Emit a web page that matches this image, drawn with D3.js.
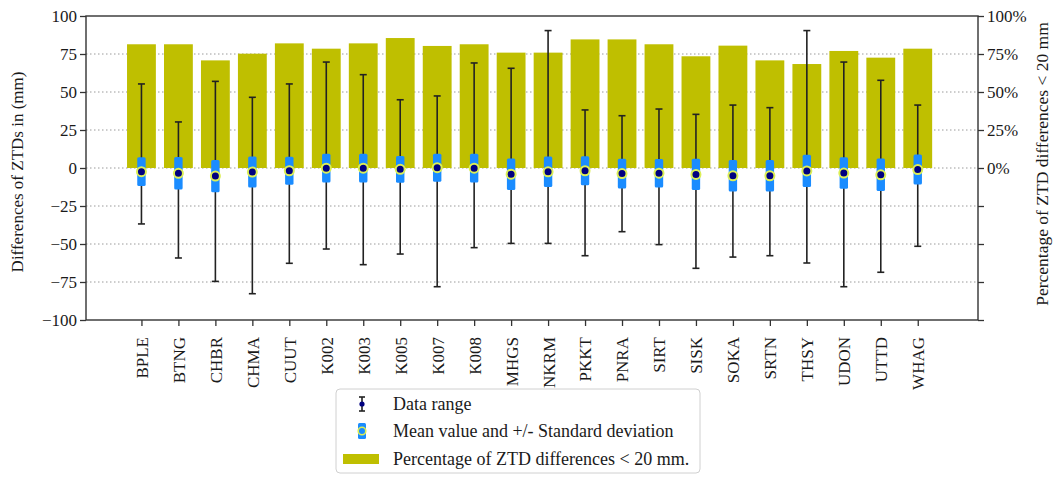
<!DOCTYPE html>
<html>
<head>
<meta charset="utf-8">
<script src="https://cdn.jsdelivr.net/npm/d3@7"></script>
<style>
  html, body { margin: 0; padding: 0; background: #fff; }
  svg { display: block; font-family: "Liberation Serif", "Times New Roman", serif; }
</style>
</head>
<body>
<svg id="chart" width="1053" height="477"></svg>
<script>
// GNSS stations
const stations = ["BPLE","BTNG","CHBR","CHMA","CUUT","K002","K003","K005","K007","K008","MHGS",
                  "NKRM","PKKT","PNRA","SIRT","SISK","SOKA","SRTN","THSY","UDON","UTTD","WHAG"];
// Percentage of ZTD differences below 20 mm (%)
const pctBelow20 = [81.4,81.4,70.8,75.2,82.0,78.5,82.0,85.5,80.3,81.4,75.9,
                    75.9,84.6,84.6,81.4,73.5,80.5,70.8,68.4,77.0,72.6,78.5];
// ZTD difference statistics (mm)
const meanDiff = [-2.4,-3.5,-5.3,-2.7,-1.8,-0.1,-0.1,-0.9,0.2,-0.1,-4.1,
                  -2.5,-1.8,-3.7,-3.4,-4.2,-5.1,-5.1,-1.9,-3.3,-4.5,-1.0];
const stdDiff  = [9.5,10.7,10.6,10.2,9.2,9.4,9.4,8.8,9.2,9.4,10.4,
                  10.0,9.5,9.8,9.4,10.3,10.3,10.3,10.6,10.3,10.7,9.8];
const maxDiff  = [55.3,30.3,57.0,46.5,55.3,69.7,61.4,44.9,47.4,69.1,65.6,
                  90.4,38.2,34.4,38.8,35.3,41.4,39.7,90.4,69.7,57.7,41.4];
const minDiff  = [-36.8,-59.2,-74.6,-82.7,-62.7,-53.3,-63.6,-56.6,-78.1,-52.4,-49.6,
                  -49.6,-57.7,-41.9,-50.4,-66.0,-58.6,-57.7,-62.5,-78.1,-68.6,-51.5];
// Axis ticks
const leftTicks = [-100,-75,-50,-25,0,25,50,75,100];
const rightTicks = [-100,-75,-50,-25,0,25,50,75,100];

const legendLabels = ["Data range", "Mean value and +/- Standard deviation", "Percentage of ZTD differences < 20 mm."];

const COL_BAR = "#bfbf00", COL_SD = "#1a8cff", COL_MEAN = "#000080", COL_RING = "#dcef55", COL_WHISK = "#222";

const svg = d3.select("#chart");
const plot = { left: 86, right: 978, top: 16, bottom: 320 };

const x = d3.scaleLinear().domain([-1.5, stations.length - 1 + 1.63]).range([plot.left, plot.right]);
const y = d3.scaleLinear().domain([-100, 100]).range([plot.bottom, plot.top]);
const yPct = d3.scaleLinear().domain([-100, 100]).range([plot.bottom, plot.top]);
const step = x(1) - x(0);
const barW = step * 0.78;

// Grid
svg.append("g").selectAll("line").data(leftTicks.filter(d => d > -100 && d < 100)).join("line")
  .attr("x1", plot.left).attr("x2", plot.right)
  .attr("y1", d => y(d)).attr("y2", d => y(d))
  .attr("stroke", "#9a9a9a").attr("stroke-width", 1).attr("stroke-dasharray", "1.5,2.5");

// Percentage bars
svg.append("g").selectAll("rect").data(stations).join("rect")
  .attr("x", (d, i) => x(i) - barW / 2)
  .attr("width", barW)
  .attr("y", (d, i) => yPct(pctBelow20[i]))
  .attr("height", (d, i) => yPct(0) - yPct(pctBelow20[i]))
  .attr("fill", COL_BAR);

// Data range whiskers
const whisk = svg.append("g").attr("stroke", COL_WHISK).attr("stroke-width", 1.6);
stations.forEach((s, i) => {
  const cx = x(i);
  whisk.append("line").attr("x1", cx).attr("x2", cx).attr("y1", y(maxDiff[i])).attr("y2", y(minDiff[i]));
  [maxDiff[i], minDiff[i]].forEach(v => {
    whisk.append("line").attr("x1", cx - 3.5).attr("x2", cx + 3.5).attr("y1", y(v)).attr("y2", y(v));
  });
});

// Standard deviation boxes
svg.append("g").selectAll("rect").data(stations).join("rect")
  .attr("x", (d, i) => x(i) - 4.2)
  .attr("width", 8.4)
  .attr("y", (d, i) => y(meanDiff[i] + stdDiff[i]))
  .attr("height", (d, i) => y(meanDiff[i] - stdDiff[i]) - y(meanDiff[i] + stdDiff[i]))
  .attr("rx", 1.5)
  .attr("fill", COL_SD);

// Mean markers
svg.append("g").selectAll("circle").data(stations).join("circle")
  .attr("cx", (d, i) => x(i)).attr("cy", (d, i) => y(meanDiff[i]))
  .attr("r", 4.5)
  .attr("fill", COL_MEAN).attr("stroke", COL_RING).attr("stroke-width", 2);

// Axes
const tickFont = 17, titleFont = 17, legendFont = 18;
const axL = svg.append("g").attr("transform", `translate(${plot.left},0)`)
  .call(d3.axisLeft(y).tickValues(leftTicks).tickSize(6).tickPadding(3).tickFormat(d => d < 0 ? "\u2212" + Math.abs(d) : d));
const axR = svg.append("g").attr("transform", `translate(${plot.right},0)`)
  .call(d3.axisRight(yPct).tickValues(rightTicks).tickSize(6).tickPadding(3).tickFormat(d => d >= 0 ? d + "%" : ""));
const axB = svg.append("g").attr("transform", `translate(0,${plot.bottom})`)
  .call(d3.axisBottom(x).tickValues(d3.range(stations.length)).tickSize(6).tickPadding(4).tickFormat(i => stations[i]));

[axL, axR, axB].forEach(g => {
  g.select(".domain").remove();
  g.selectAll(".tick line").attr("stroke", "#333").attr("stroke-width", 1.3);
  g.selectAll(".tick text").attr("fill", "#1a1a1a").attr("font-size", tickFont)
    .attr("font-family", "Liberation Serif, Times New Roman, serif");
});
axB.selectAll(".tick text")
  .attr("transform", "rotate(-90)")
  .attr("text-anchor", "end")
  .attr("x", -17).attr("y", 0).attr("dy", "0.35em");

// Frame
svg.append("rect")
  .attr("x", plot.left).attr("y", plot.top)
  .attr("width", plot.right - plot.left).attr("height", plot.bottom - plot.top)
  .attr("fill", "none").attr("stroke", "#333").attr("stroke-width", 1.4);

// Axis titles
svg.append("text")
  .attr("transform", `translate(23,${(plot.top + plot.bottom) / 2 + 4}) rotate(-90)`)
  .attr("text-anchor", "middle").attr("font-size", titleFont).attr("fill", "#1a1a1a")
  .text("Differences of ZTDs in (mm)");
svg.append("text")
  .attr("transform", `translate(1048,${(plot.top + plot.bottom) / 2 - 4}) rotate(-90)`)
  .attr("text-anchor", "middle").attr("font-size", titleFont + 0.5).attr("fill", "#1a1a1a")
  .text("Percentage of ZTD differences < 20 mm");

// Legend
const lg = svg.append("g").attr("transform", "translate(336,389)");
lg.append("rect").attr("width", 364).attr("height", 84).attr("rx", 4)
  .attr("fill", "#fff").attr("stroke", "#d0d0d0").attr("stroke-width", 1);
const rowY = [15, 42, 70];
const hx = 26;
// errorbar handle
lg.append("line").attr("x1", hx).attr("x2", hx).attr("y1", rowY[0] - 7).attr("y2", rowY[0] + 7)
  .attr("stroke", COL_WHISK).attr("stroke-width", 1.6);
[rowY[0] - 7, rowY[0] + 7].forEach(v => lg.append("line").attr("x1", hx - 3).attr("x2", hx + 3)
  .attr("y1", v).attr("y2", v).attr("stroke", COL_WHISK).attr("stroke-width", 1.6));
lg.append("circle").attr("cx", hx).attr("cy", rowY[0]).attr("r", 2.6).attr("fill", COL_MEAN);
// mean / sd handle
lg.append("rect").attr("x", hx - 4).attr("width", 8).attr("y", rowY[1] - 8).attr("height", 16)
  .attr("rx", 1.5).attr("fill", COL_SD);
lg.append("circle").attr("cx", hx).attr("cy", rowY[1]).attr("r", 3.8)
  .attr("fill", COL_SD).attr("stroke", COL_RING).attr("stroke-width", 1.6);
// bar handle
lg.append("rect").attr("x", 7).attr("width", 36).attr("y", rowY[2] - 5).attr("height", 10).attr("fill", COL_BAR);
lg.selectAll("text.lab").data(legendLabels).join("text").attr("class", "lab")
  .attr("x", 57).attr("y", (d, i) => rowY[i]).attr("dy", "0.35em")
  .attr("font-size", legendFont).attr("fill", "#1a1a1a").text(d => d);
</script>
</body>
</html>
